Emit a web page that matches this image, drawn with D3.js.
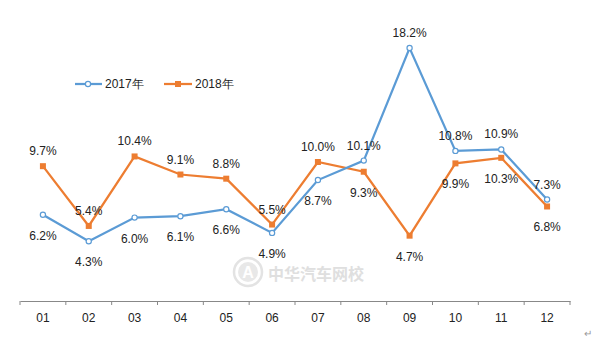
<!DOCTYPE html>
<html><head><meta charset="utf-8">
<script src="https://cdn.jsdelivr.net/npm/d3@7/dist/d3.min.js"></script>
<style>body{margin:0;background:#fff}svg{display:block}</style>
</head><body>
<svg id="c" width="600" height="343"></svg>
<script>
const months = ["01","02","03","04","05","06","07","08","09","10","11","12"];
const series2017 = [6.2,4.3,6.0,6.1,6.6,4.9,8.7,10.1,18.2,10.8,10.9,7.3];
const series2018 = [9.7,5.4,10.4,9.1,8.8,5.5,10.0,9.3,4.7,9.9,10.3,6.8];
// label placement: 1 = above, -1 = below
const pos2017 = [-1,-1,-1,-1,-1,-1,-1,1,1,1,1,1];
const pos2018 = [1,1,1,1,1,1,1,-1,-1,-1,-1,-1];
const seriesNames = ["2017年","2018年"];

const svg = d3.select("#c");
const font = "'Liberation Sans', Arial, sans-serif";
const x = d3.scaleBand().domain(months).range([20,570]);
const y = d3.scaleLinear().domain([0,20]).range([301,23]);
const cx = d => x(d) + x.bandwidth()/2;

// watermark
const wm = svg.append("g").attr("opacity",0.9);
wm.append("circle").attr("cx",248).attr("cy",272).attr("r",14).attr("fill","none").attr("stroke","#e0e0e0").attr("stroke-width",2.5);
wm.append("circle").attr("cx",248).attr("cy",272).attr("r",10).attr("fill","#e6e6e6");
wm.append("text").attr("x",248).attr("y",278).attr("text-anchor","middle").attr("font-family",font).attr("font-size",16).attr("font-weight","bold").attr("fill","#fff").text("A");
wm.append("text").attr("x",268).attr("y",280).attr("font-family","'Noto Sans CJK SC', sans-serif").attr("font-size",16).attr("font-weight","bold").attr("fill","#dcdcdc").text("中华汽车网校");

// axis
const ax = svg.append("g").attr("transform","translate(0,301)")
  .call(d3.axisBottom(x).tickSize(0).tickPadding(12));
ax.select(".domain").attr("stroke","#888").attr("stroke-width",1);
ax.selectAll("text").attr("font-family",font).attr("font-size",12).attr("fill","#222");
const edges = months.map(m=>x(m)).concat([570]);
svg.append("g").selectAll("line").data(edges).join("line")
  .attr("x1",d=>d).attr("x2",d=>d).attr("y1",301).attr("y2",305)
  .attr("stroke","#888").attr("stroke-width",1);

const line = d3.line().x((d,i)=>cx(months[i])).y(d=>y(d));
const c17 = "#5B9BD5", c18 = "#ED7D31";

svg.append("path").datum(series2018).attr("d",line).attr("fill","none").attr("stroke",c18).attr("stroke-width",2.25);
svg.append("path").datum(series2017).attr("d",line).attr("fill","none").attr("stroke",c17).attr("stroke-width",2.25);

svg.append("g").selectAll("rect").data(series2018).join("rect")
  .attr("x",(d,i)=>cx(months[i])-3).attr("y",d=>y(d)-3).attr("width",6).attr("height",6).attr("fill",c18);
svg.append("g").selectAll("circle").data(series2017).join("circle")
  .attr("cx",(d,i)=>cx(months[i])).attr("cy",d=>y(d)).attr("r",2.6).attr("fill","#fff").attr("stroke",c17).attr("stroke-width",1.2);

function labels(data,pos){
  svg.append("g").selectAll("text").data(data).join("text")
    .attr("x",(d,i)=>cx(months[i]))
    .attr("y",(d,i)=>y(d) + (pos[i]>0 ? -11 : 25))
    .attr("text-anchor","middle").attr("font-family",font).attr("font-size",12).attr("fill","#222")
    .text(d=>d.toFixed(1)+"%");
}
labels(series2018,pos2018);
labels(series2017,pos2017);

// legend
const lg = svg.append("g").attr("font-family",font).attr("font-size",12).attr("fill","#222");
lg.append("line").attr("x1",75).attr("x2",102).attr("y1",84).attr("y2",84).attr("stroke",c17).attr("stroke-width",2.25);
lg.append("circle").attr("cx",88).attr("cy",84).attr("r",2.6).attr("fill","#fff").attr("stroke",c17).attr("stroke-width",1.2);
lg.append("text").attr("x",105).attr("y",88).text(seriesNames[0]);
lg.append("line").attr("x1",164).attr("x2",192).attr("y1",84).attr("y2",84).attr("stroke",c18).attr("stroke-width",2.25);
lg.append("rect").attr("x",175).attr("y",81).attr("width",6).attr("height",6).attr("fill",c18);
lg.append("text").attr("x",195).attr("y",88).text(seriesNames[1]);

// paragraph mark
svg.append("text").attr("x",584).attr("y",337).attr("font-family",font).attr("font-size",10).attr("fill","#999").text("↵");
</script>
</body></html>
